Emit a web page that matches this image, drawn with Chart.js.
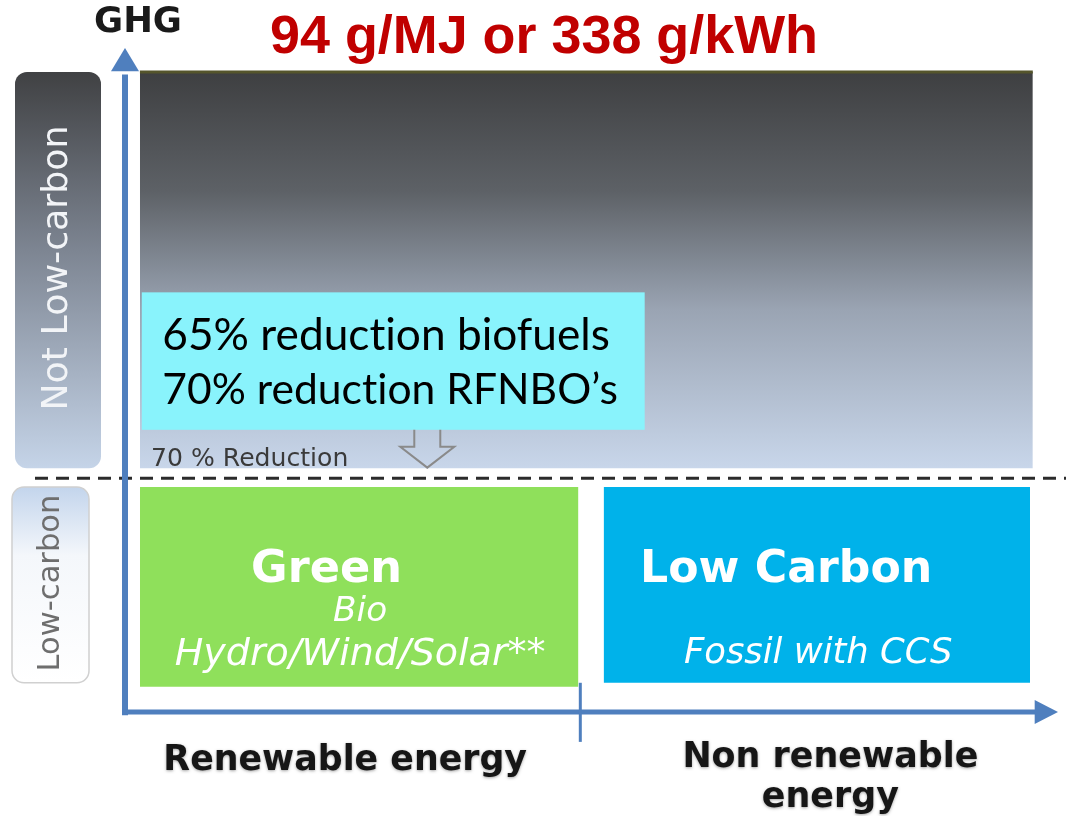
<!DOCTYPE html>
<html>
<head>
<meta charset="utf-8">
<script src="https://cdn.jsdelivr.net/npm/chart.js@4/dist/chart.umd.min.js"></script>
<style>
html, body { margin: 0; background: #fff; }
#wrap { width: 1066px; height: 816px; }
</style>
</head>
<body>
<div id="wrap"><canvas id="myChart"></canvas></div>
<script>
// ゾーン (x: 0-100 エネルギー区分, y: 0-100 GHG 相対値)
const zoneLabels = ['Not Low-carbon', 'Green', 'Low Carbon'];
const zoneFrom = [1.6, 1.6, 51.3];
const zoneTo = [97.3, 48.6, 97.0];
const zoneTop = [96.4, 33.9, 33.9];
const zoneBottom = [36.7, 3.8, 4.4];

const thresholdY = 35.2;          // 70 % Reduction のライン
const categorySplit = 48.8;       // 再エネ / 非再エネ の境目
const categoryLabels = [['Renewable energy'], ['Non renewable', 'energy']];
const categoryCenters = [23.6, 75.6];

const greenSub = ['Bio', 'Hydro/Wind/Solar**'];
const blueSub = ['Fossil with CCS'];
const noteLines = ['65% reduction biofuels', '70% reduction RFNBO\u2019s'];
const titleText = '94 g/MJ or 338 g/kWh';

// テキスト幅に合わせてフォントサイズを決める
function fitFont(ctx, text, style, family, width) {
    ctx.font = `${style} 100px ${family}`;
    const size = 100 * width / ctx.measureText(text).width;
    ctx.font = `${style} ${size.toFixed(1)}px ${family}`;
}

function roundRect(ctx, x, y, w, h, r) {
    ctx.beginPath();
    ctx.moveTo(x + r, y);
    ctx.arcTo(x + w, y, x + w, y + h, r);
    ctx.arcTo(x + w, y + h, x, y + h, r);
    ctx.arcTo(x, y + h, x, y, r);
    ctx.arcTo(x, y, x + w, y, r);
    ctx.closePath();
}

const GOTHIC = '"DejaVu Sans"';

const diagramPlugin = {
    id: 'diagram',
    afterDatasetsDraw(chart) {
        const ctx = chart.ctx;
        const x = chart.scales.x, y = chart.scales.y;
        const X = v => x.getPixelForValue(v);
        const Y = v => y.getPixelForValue(v);
        ctx.save();

        // 左側のラベルボックス
        let top = Y(zoneTop[0]), bot = Y(zoneBottom[0]);
        let g = ctx.createLinearGradient(0, top, 0, bot);
        g.addColorStop(0, '#404143');
        g.addColorStop(0.45, '#7d8592');
        g.addColorStop(1, '#c5d4e8');
        roundRect(ctx, 15, top, 86, bot - top, 12);
        ctx.fillStyle = g;
        ctx.fill();

        top = Y(zoneTop[1]) ; bot = Y(zoneBottom[1]) - 4;
        g = ctx.createLinearGradient(0, top, 0, bot);
        g.addColorStop(0, '#c3d5ec');
        g.addColorStop(0.35, '#f4f7fb');
        g.addColorStop(1, '#ffffff');
        roundRect(ctx, 12, top, 77, bot - top, 12);
        ctx.fillStyle = g;
        ctx.fill();
        ctx.strokeStyle = '#d0d0d0';
        ctx.lineWidth = 1.5;
        ctx.stroke();

        ctx.textAlign = 'center';
        ctx.textBaseline = 'middle';
        ctx.save();
        ctx.translate(58, 268);
        ctx.rotate(-Math.PI / 2);
        fitFont(ctx, zoneLabels[0], '500', GOTHIC, 285);
        ctx.fillStyle = '#f2f4f7';
        ctx.fillText(zoneLabels[0], 0, 0);
        ctx.restore();
        ctx.save();
        ctx.translate(51, 583);
        ctx.rotate(-Math.PI / 2);
        fitFont(ctx, 'Low-carbon', '500', GOTHIC, 177);
        ctx.fillStyle = '#6e6e6e';
        ctx.fillText('Low-carbon', 0, 0);
        ctx.restore();

        // 閾値の破線
        ctx.setLineDash([13, 8]);
        ctx.strokeStyle = '#2b2b2b';
        ctx.lineWidth = 3;
        ctx.beginPath();
        ctx.moveTo(35, Y(thresholdY));
        ctx.lineTo(chart.width, Y(thresholdY));
        ctx.stroke();
        ctx.setLineDash([]);

        // 軸 (矢印)
        const axisColor = '#4f7fbe';
        ctx.strokeStyle = axisColor;
        ctx.fillStyle = axisColor;
        ctx.lineWidth = 6;
        ctx.beginPath();
        ctx.moveTo(X(0), Y(-0.5));
        ctx.lineTo(X(0), Y(96));
        ctx.stroke();
        ctx.beginPath();
        ctx.moveTo(X(0), Y(100));
        ctx.lineTo(X(0) - 14, Y(96.5));
        ctx.lineTo(X(0) + 14, Y(96.5));
        ctx.closePath();
        ctx.fill();

        ctx.lineWidth = 5;
        ctx.beginPath();
        ctx.moveTo(X(-0.3), Y(0));
        ctx.lineTo(X(98), Y(0));
        ctx.stroke();
        ctx.beginPath();
        ctx.moveTo(X(100), Y(0));
        ctx.lineTo(X(97.5), Y(0) - 12);
        ctx.lineTo(X(97.5), Y(0) + 12);
        ctx.closePath();
        ctx.fill();

        ctx.lineWidth = 3;
        ctx.beginPath();
        ctx.moveTo(X(categorySplit), Y(4.4));
        ctx.lineTo(X(categorySplit), Y(-4.5));
        ctx.stroke();

        // ボックス内テキスト
        ctx.fillStyle = '#ffffff';
        fitFont(ctx, zoneLabels[1], 'bold', GOTHIC, 151);
        ctx.fillText(zoneLabels[1], X(21.6), Y(21.3));
        fitFont(ctx, greenSub[0], 'oblique', GOTHIC, 54);
        ctx.fillText(greenSub[0], X(25.2), Y(15.0));
        fitFont(ctx, greenSub[1], 'oblique', GOTHIC, 371);
        ctx.fillText(greenSub[1], X(25.2), Y(8.6));

        ctx.textAlign = 'left';
        fitFont(ctx, zoneLabels[2], 'bold', GOTHIC, 292);
        ctx.fillText(zoneLabels[2], X(55.2), Y(21.3));
        ctx.textAlign = 'center';
        fitFont(ctx, blueSub[0], 'oblique', GOTHIC, 269);
        ctx.fillText(blueSub[0], X(74.3), Y(8.7));

        // 注記ボックス
        ctx.fillStyle = '#89f3fc';
        ctx.fillRect(X(1.8), Y(63.2), X(55.7) - X(1.8), Y(42.5) - Y(63.2));
        ctx.fillStyle = '#000000';
        ctx.textAlign = 'left';
        ctx.letterSpacing = '0.01px';   // "ti" の合字を避ける
        fitFont(ctx, noteLines[0], 'normal', 'Lato', 448);
        ctx.fillText(noteLines[0], X(4.0), Y(56.6));
        fitFont(ctx, noteLines[1], 'normal', 'Lato', 455);
        ctx.fillText(noteLines[1], X(4.0), Y(48.4));
        ctx.letterSpacing = '0px';

        // 下向き矢印 (輪郭のみ)
        const ax = X(32.4), ay0 = Y(42.5), ay1 = Y(36.8);
        ctx.strokeStyle = '#8a8a8a';
        ctx.lineWidth = 2;
        ctx.beginPath();
        ctx.moveTo(ax - 13, ay0);
        ctx.lineTo(ax - 13, ay0 + 17);
        ctx.lineTo(ax - 27, ay0 + 17);
        ctx.lineTo(ax, ay1);
        ctx.lineTo(ax + 27, ay0 + 17);
        ctx.lineTo(ax + 13, ay0 + 17);
        ctx.lineTo(ax + 13, ay0);
        ctx.stroke();

        ctx.fillStyle = '#3a3a3a';
        fitFont(ctx, '70 % Reduction', '500', GOTHIC, 197);
        ctx.fillText('70 % Reduction', X(2.8), Y(38.0));

        // タイトルと GHG
        ctx.textAlign = 'center';
        ctx.fillStyle = '#c00000';
        fitFont(ctx, titleText, 'bold', '"Liberation Sans"', 548);
        ctx.fillText(titleText, 544, 38);
        ctx.fillStyle = '#1a1a1a';
        fitFont(ctx, 'GHG', 'bold', GOTHIC, 88);
        ctx.fillText('GHG', 138, 23);

        // カテゴリラベル
        ctx.shadowColor = 'rgba(0,0,0,0.35)';
        ctx.shadowBlur = 3;
        ctx.shadowOffsetY = 1;
        ctx.fillStyle = '#161616';
        fitFont(ctx, categoryLabels[0][0], 'bold', GOTHIC, 364);
        ctx.fillText(categoryLabels[0][0], X(categoryCenters[0]), Y(-7.3));
        fitFont(ctx, categoryLabels[1][0], 'bold', GOTHIC, 296);
        ctx.fillText(categoryLabels[1][0], X(categoryCenters[1]), Y(-6.9));
        ctx.fillText(categoryLabels[1][1], X(categoryCenters[1]), Y(-12.9));
        ctx.restore();
    }
};

function zoneData(i) {
    return [{ x: zoneFrom[i], y: zoneTop[i] }, { x: zoneTo[i], y: zoneTop[i] }];
}

const ctx = document.getElementById('myChart').getContext('2d');
const diagram = new Chart(ctx, {
    type: 'line',
    data: {
        datasets: [
            {
                label: zoneLabels[0],
                data: zoneData(0),
                fill: { value: zoneBottom[0] },
                backgroundColor: (c) => {
                    const ch = c.chart;
                    if (!ch.chartArea) return '#888';
                    const sy = ch.scales.y;
                    const g = ch.ctx.createLinearGradient(0, sy.getPixelForValue(zoneTop[0]), 0, sy.getPixelForValue(zoneBottom[0]));
                    g.addColorStop(0, '#3e3f41');
                    g.addColorStop(0.3, '#5d6166');
                    g.addColorStop(0.6, '#9aa4b3');
                    g.addColorStop(1, '#c8d6ea');
                    return g;
                },
                borderColor: '#55552c',
                borderWidth: 3
            },
            {
                label: zoneLabels[1],
                data: zoneData(1),
                fill: { value: zoneBottom[1] },
                backgroundColor: '#8fe05b',
                borderWidth: 0
            },
            {
                label: zoneLabels[2],
                data: zoneData(2),
                fill: { value: zoneBottom[2] },
                backgroundColor: '#00b2ea',
                borderWidth: 0
            }
        ]
    },
    options: {
        responsive: true,
        maintainAspectRatio: false,
        animation: false,
        layout: { padding: { left: 125, right: 8, top: 48, bottom: 104 } },
        elements: { point: { radius: 0 }, line: { tension: 0 } },
        scales: {
            x: { type: 'linear', min: 0, max: 100, display: false },
            y: { type: 'linear', min: 0, max: 100, display: false }
        },
        plugins: {
            legend: { display: false },
            tooltip: { enabled: false }
        }
    },
    plugins: [diagramPlugin]
});
</script>
</body>
</html>
